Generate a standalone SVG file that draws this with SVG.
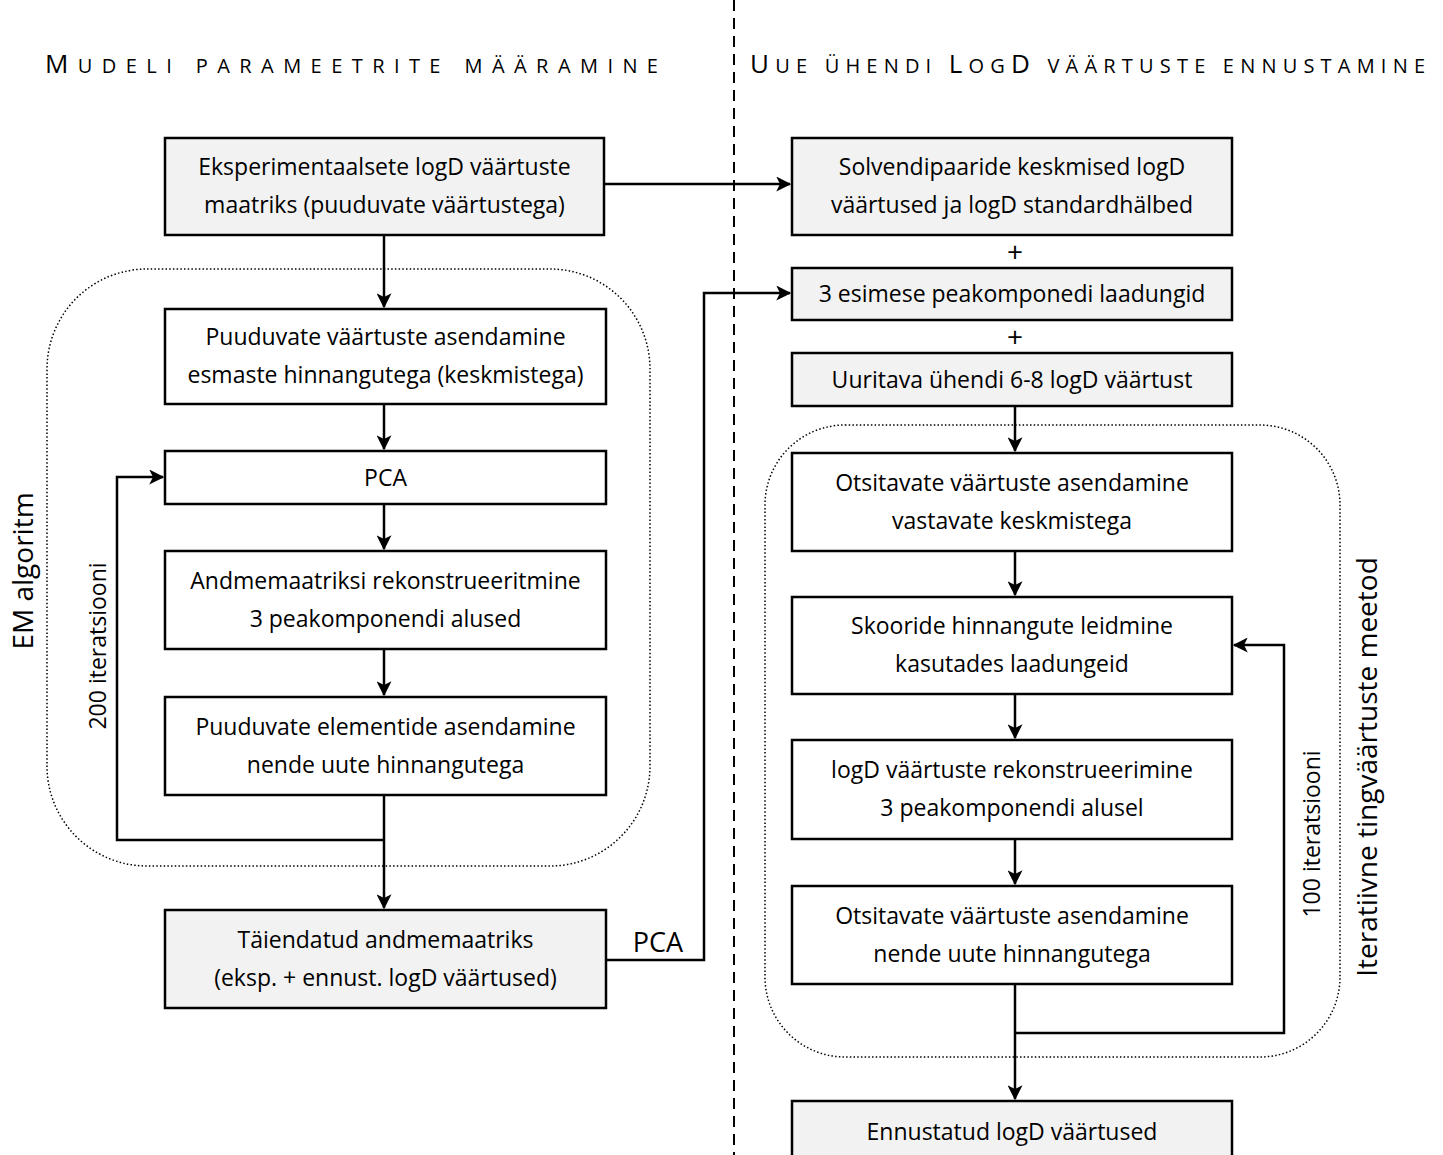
<svg xmlns="http://www.w3.org/2000/svg" width="1443" height="1155" viewBox="0 0 1443 1155">
<defs>
<style>
.box{stroke:#000;stroke-width:2.5}
.g{fill:#f2f2f2}
.w{fill:#fff}
.t{font-family:"Open Sans","Liberation Sans",sans-serif;font-size:23px;fill:#000;text-anchor:middle}
.h{font-family:"Open Sans","Liberation Sans",sans-serif;fill:#000}
.big{font-size:26px}
.sm{font-size:20px}
.c{fill:none;stroke:#000;stroke-width:2.5}
.dot{fill:none;stroke:#000;stroke-width:1.5;stroke-dasharray:1.5 2.2}
.lbl{font-family:"Open Sans","Liberation Sans",sans-serif;fill:#000}
</style>
<marker id="ah" viewBox="0 0 12 12" refX="11" refY="6" markerWidth="15" markerHeight="15" markerUnits="userSpaceOnUse" orient="auto">
<path d="M0,0 L12,6 L0,12 L3,6 z" fill="#000"/>
</marker>
</defs>
<rect width="1443" height="1155" fill="#fff"/>

<line x1="734" y1="0" x2="734" y2="1155" stroke="#000" stroke-width="2" stroke-dasharray="11 7"/>

<text class="h" x="45" y="73" textLength="613" lengthAdjust="spacing"><tspan class="big">M</tspan><tspan class="sm">UDELI PARAMEETRITE MÄÄRAMINE</tspan></text>
<text class="h" x="750" y="73" textLength="675" lengthAdjust="spacing"><tspan class="big">U</tspan><tspan class="sm">UE ÜHENDI </tspan><tspan class="big">L</tspan><tspan class="sm">OG</tspan><tspan class="big">D</tspan><tspan class="sm"> VÄÄRTUSTE ENNUSTAMINE</tspan></text>

<rect class="dot" x="47" y="269" width="603" height="597" rx="100" ry="100"/>
<rect class="dot" x="765" y="425" width="575" height="632" rx="80" ry="80"/>

<text class="lbl" font-size="28" transform="translate(33,571) rotate(-90)" text-anchor="middle">EM algoritm</text>
<text class="lbl" font-size="23" transform="translate(106,646) rotate(-90)" text-anchor="middle">200 iteratsiooni</text>
<text class="lbl" font-size="23" transform="translate(1320,834) rotate(-90)" text-anchor="middle">100 iteratsiooni</text>
<text class="lbl" font-size="28" transform="translate(1377,767) rotate(-90)" text-anchor="middle">Iteratiivne tingväärtuste meetod</text>
<text class="lbl" font-size="27" x="658" y="952" text-anchor="middle">PCA</text>
<text class="lbl" font-size="28" x="1015" y="262" text-anchor="middle">+</text>
<text class="lbl" font-size="28" x="1015" y="347" text-anchor="middle">+</text>

<g id="connectors">
<path class="c" d="M604,184 H790" marker-end="url(#ah)"/>
<path class="c" d="M384,235 V307" marker-end="url(#ah)"/>
<path class="c" d="M384,404 V449" marker-end="url(#ah)"/>
<path class="c" d="M384,504 V549" marker-end="url(#ah)"/>
<path class="c" d="M384,649 V695" marker-end="url(#ah)"/>
<path class="c" d="M384,795 V908" marker-end="url(#ah)"/>
<path class="c" d="M384,840 H117 V477 H163" marker-end="url(#ah)"/>
<path class="c" d="M606,960 H704 V293 H790" marker-end="url(#ah)"/>
<path class="c" d="M1015,406 V451" marker-end="url(#ah)"/>
<path class="c" d="M1015,551 V595" marker-end="url(#ah)"/>
<path class="c" d="M1015,694 V738" marker-end="url(#ah)"/>
<path class="c" d="M1015,839 V884" marker-end="url(#ah)"/>
<path class="c" d="M1015,984 V1099" marker-end="url(#ah)"/>
<path class="c" d="M1015,1033 H1284 V645 H1234" marker-end="url(#ah)"/>
</g>

<g id="nA"><rect class="box g" x="165" y="138" width="439" height="97"/><text class="t" x="384.5" y="175">Eksperimentaalsete logD väärtuste</text><text class="t" x="384.5" y="213">maatriks (puuduvate väärtustega)</text></g>
<g id="nB"><rect class="box w" x="165" y="309" width="441" height="95"/><text class="t" x="385.5" y="345">Puuduvate väärtuste asendamine</text><text class="t" x="385.5" y="383">esmaste hinnangutega (keskmistega)</text></g>
<g id="nPCA"><rect class="box w" x="165" y="451" width="441" height="53"/><text class="t" x="385.5" y="486">PCA</text></g>
<g id="nC"><rect class="box w" x="165" y="551" width="441" height="98"/><text class="t" x="385.5" y="589">Andmemaatriksi rekonstrueeritmine</text><text class="t" x="385.5" y="627">3 peakomponendi alused</text></g>
<g id="nD"><rect class="box w" x="165" y="697" width="441" height="98"/><text class="t" x="385.5" y="735">Puuduvate elementide asendamine</text><text class="t" x="385.5" y="773">nende uute hinnangutega</text></g>
<g id="nE"><rect class="box g" x="165" y="910" width="441" height="98"/><text class="t" x="385.5" y="948">Täiendatud andmemaatriks</text><text class="t" x="385.5" y="986">(eksp. + ennust. logD väärtused)</text></g>

<g id="nF"><rect class="box g" x="792" y="138" width="440" height="97"/><text class="t" x="1012" y="175">Solvendipaaride keskmised logD</text><text class="t" x="1012" y="213">väärtused ja logD standardhälbed</text></g>
<g id="nG"><rect class="box g" x="792" y="268" width="440" height="52"/><text class="t" x="1012" y="302">3 esimese peakomponedi laadungid</text></g>
<g id="nH"><rect class="box g" x="792" y="353" width="440" height="53"/><text class="t" x="1012" y="388">Uuritava ühendi 6-8 logD väärtust</text></g>
<g id="nI"><rect class="box w" x="792" y="453" width="440" height="98"/><text class="t" x="1012" y="491">Otsitavate väärtuste asendamine</text><text class="t" x="1012" y="529">vastavate keskmistega</text></g>
<g id="nJ"><rect class="box w" x="792" y="597" width="440" height="97"/><text class="t" x="1012" y="634">Skooride hinnangute leidmine</text><text class="t" x="1012" y="672">kasutades laadungeid</text></g>
<g id="nK"><rect class="box w" x="792" y="740" width="440" height="99"/><text class="t" x="1012" y="778">logD väärtuste rekonstrueerimine</text><text class="t" x="1012" y="816">3 peakomponendi alusel</text></g>
<g id="nL"><rect class="box w" x="792" y="886" width="440" height="98"/><text class="t" x="1012" y="924">Otsitavate väärtuste asendamine</text><text class="t" x="1012" y="962">nende uute hinnangutega</text></g>
<g id="nM"><rect class="box g" x="792" y="1101" width="440" height="70"/><text class="t" x="1012" y="1140">Ennustatud logD väärtused</text></g>
</svg>
